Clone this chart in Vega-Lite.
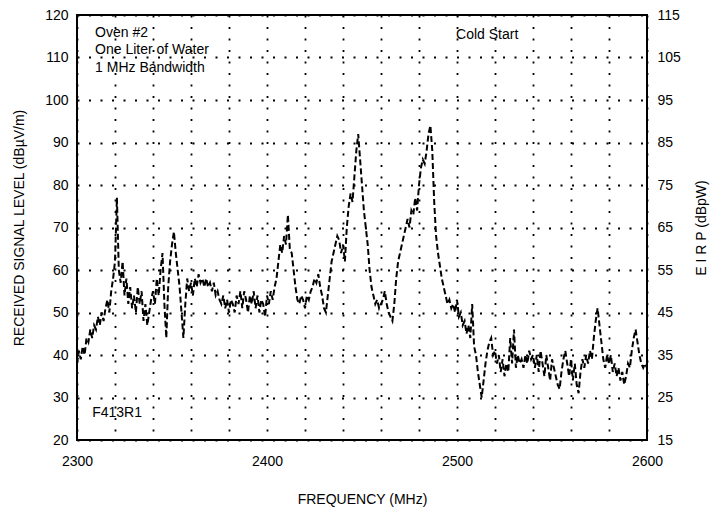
{
  "$schema": "https://vega.github.io/schema/vega-lite/v6.json",
  "autosize": "none",
  "width": 570,
  "height": 425,
  "padding": {"left": 77, "top": 15, "right": 75, "bottom": 74},
  "background": "white",
  "config": {
    "view": {"stroke": "black", "strokeWidth": 2},
    "font": "Liberation Sans Narrow, Liberation Sans, Arial",
    "axis": {
      "labelFont": "Liberation Sans Narrow, Liberation Sans, Arial",
      "titleFont": "Liberation Sans Narrow, Liberation Sans, Arial",
      "labelFontSize": 14,
      "titleFontSize": 14,
      "titleFontWeight": "normal",
      "labelColor": "black",
      "titleColor": "black",
      "labelOverlap": false,
      "domain": false,
      "ticks": false,
      "gridColor": "black",
      "gridOpacity": 1,
      "gridWidth": 1.8,
      "gridDash": [2, 9.5]
    }
  },
  "datasets": {
    "signal": [
      {"f":2300,"v":38},{"f":2301,"v":41},{"f":2302,"v":39},{"f":2303,"v":42},{"f":2304,"v":40},{"f":2305,"v":44},{"f":2306,"v":43},{"f":2307,"v":46},{"f":2308,"v":44},{"f":2309,"v":47},
      {"f":2310,"v":46},{"f":2311,"v":49},{"f":2312,"v":47},{"f":2313,"v":50},{"f":2314,"v":48},{"f":2315,"v":51},{"f":2316,"v":53},{"f":2317,"v":50},{"f":2318,"v":55},{"f":2319,"v":58},
      {"f":2320,"v":62},{"f":2321,"v":77},{"f":2322,"v":60},{"f":2323,"v":57},{"f":2324,"v":62},{"f":2325,"v":54},{"f":2326,"v":58},{"f":2327,"v":52},{"f":2328,"v":56},{"f":2329,"v":51},
      {"f":2330,"v":54},{"f":2331,"v":50},{"f":2332,"v":56},{"f":2333,"v":52},{"f":2334,"v":55},{"f":2335,"v":48},{"f":2336,"v":52},{"f":2337,"v":47},{"f":2338,"v":50},{"f":2339,"v":53},
      {"f":2340,"v":55},{"f":2341,"v":52},{"f":2342,"v":58},{"f":2343,"v":54},{"f":2344,"v":60},{"f":2345,"v":64},{"f":2346,"v":52},{"f":2347,"v":44},{"f":2348,"v":56},{"f":2349,"v":62},
      {"f":2350,"v":66},{"f":2351,"v":69},{"f":2352,"v":64},{"f":2353,"v":60},{"f":2354,"v":56},{"f":2355,"v":50},{"f":2356,"v":44},{"f":2357,"v":52},{"f":2358,"v":58},{"f":2359,"v":55},
      {"f":2360,"v":57},{"f":2361,"v":54},{"f":2362,"v":58},{"f":2363,"v":56},{"f":2364,"v":59},{"f":2365,"v":57},{"f":2366,"v":58},{"f":2367,"v":56},{"f":2368,"v":58},{"f":2369,"v":56},
      {"f":2370,"v":57},{"f":2371,"v":55},{"f":2372,"v":57},{"f":2373,"v":54},{"f":2374,"v":55},{"f":2375,"v":53},{"f":2376,"v":52},{"f":2377,"v":54},{"f":2378,"v":51},{"f":2379,"v":53},
      {"f":2380,"v":50},{"f":2381,"v":53},{"f":2382,"v":52},{"f":2383,"v":50},{"f":2384,"v":54},{"f":2385,"v":52},{"f":2386,"v":55},{"f":2387,"v":51},{"f":2388,"v":55},{"f":2389,"v":53},
      {"f":2390,"v":50},{"f":2391,"v":54},{"f":2392,"v":52},{"f":2393,"v":55},{"f":2394,"v":51},{"f":2395,"v":54},{"f":2396,"v":50},{"f":2397,"v":53},{"f":2398,"v":52},{"f":2399,"v":49},
      {"f":2400,"v":54},{"f":2401,"v":52},{"f":2402,"v":55},{"f":2403,"v":53},{"f":2404,"v":56},{"f":2405,"v":58},{"f":2406,"v":62},{"f":2407,"v":66},{"f":2408,"v":64},{"f":2409,"v":68},
      {"f":2410,"v":66},{"f":2411,"v":73},{"f":2412,"v":65},{"f":2413,"v":64},{"f":2414,"v":60},{"f":2415,"v":56},{"f":2416,"v":53},{"f":2417,"v":52},{"f":2418,"v":54},{"f":2419,"v":53},
      {"f":2420,"v":51},{"f":2421,"v":54},{"f":2422,"v":53},{"f":2423,"v":55},{"f":2424,"v":56},{"f":2425,"v":58},{"f":2426,"v":57},{"f":2427,"v":59},{"f":2428,"v":56},{"f":2429,"v":54},
      {"f":2430,"v":51},{"f":2431,"v":50},{"f":2432,"v":54},{"f":2433,"v":58},{"f":2434,"v":62},{"f":2435,"v":64},{"f":2436,"v":66},{"f":2437,"v":68},{"f":2438,"v":67},{"f":2439,"v":64},
      {"f":2440,"v":66},{"f":2441,"v":62},{"f":2442,"v":70},{"f":2443,"v":75},{"f":2444,"v":78},{"f":2445,"v":76},{"f":2446,"v":82},{"f":2447,"v":88},{"f":2448,"v":92},{"f":2449,"v":86},
      {"f":2450,"v":80},{"f":2451,"v":74},{"f":2452,"v":70},{"f":2453,"v":66},{"f":2454,"v":60},{"f":2455,"v":56},{"f":2456,"v":54},{"f":2457,"v":52},{"f":2458,"v":53},{"f":2459,"v":51},
      {"f":2460,"v":52},{"f":2461,"v":53},{"f":2462,"v":55},{"f":2463,"v":52},{"f":2464,"v":50},{"f":2465,"v":49},{"f":2466,"v":48},{"f":2467,"v":52},{"f":2468,"v":58},{"f":2469,"v":62},
      {"f":2470,"v":64},{"f":2471,"v":66},{"f":2472,"v":68},{"f":2473,"v":70},{"f":2474,"v":72},{"f":2475,"v":70},{"f":2476,"v":74},{"f":2477,"v":73},{"f":2478,"v":77},{"f":2479,"v":74},
      {"f":2480,"v":80},{"f":2481,"v":84},{"f":2482,"v":86},{"f":2483,"v":85},{"f":2484,"v":88},{"f":2485,"v":92},{"f":2486,"v":94},{"f":2487,"v":88},{"f":2488,"v":76},{"f":2489,"v":68},
      {"f":2490,"v":64},{"f":2491,"v":61},{"f":2492,"v":58},{"f":2493,"v":56},{"f":2494,"v":54},{"f":2495,"v":52},{"f":2496,"v":53},{"f":2497,"v":51},{"f":2498,"v":52},{"f":2499,"v":50},
      {"f":2500,"v":53},{"f":2501,"v":49},{"f":2502,"v":50},{"f":2503,"v":47},{"f":2504,"v":48},{"f":2505,"v":45},{"f":2506,"v":47},{"f":2507,"v":44},{"f":2508,"v":52},{"f":2509,"v":42},
      {"f":2510,"v":40},{"f":2511,"v":36},{"f":2512,"v":33},{"f":2513,"v":30},{"f":2514,"v":34},{"f":2515,"v":38},{"f":2516,"v":41},{"f":2517,"v":43},{"f":2518,"v":44},{"f":2519,"v":40},
      {"f":2520,"v":41},{"f":2521,"v":38},{"f":2522,"v":40},{"f":2523,"v":36},{"f":2524,"v":39},{"f":2525,"v":35},{"f":2526,"v":38},{"f":2527,"v":36},{"f":2528,"v":44},{"f":2529,"v":38},
      {"f":2530,"v":46},{"f":2531,"v":37},{"f":2532,"v":40},{"f":2533,"v":38},{"f":2534,"v":39},{"f":2535,"v":37},{"f":2536,"v":40},{"f":2537,"v":38},{"f":2538,"v":41},{"f":2539,"v":39},
      {"f":2540,"v":40},{"f":2541,"v":37},{"f":2542,"v":40},{"f":2543,"v":36},{"f":2544,"v":41},{"f":2545,"v":38},{"f":2546,"v":35},{"f":2547,"v":40},{"f":2548,"v":37},{"f":2549,"v":34},
      {"f":2550,"v":39},{"f":2551,"v":37},{"f":2552,"v":35},{"f":2553,"v":33},{"f":2554,"v":32},{"f":2555,"v":36},{"f":2556,"v":39},{"f":2557,"v":41},{"f":2558,"v":38},{"f":2559,"v":35},
      {"f":2560,"v":39},{"f":2561,"v":34},{"f":2562,"v":38},{"f":2563,"v":33},{"f":2564,"v":31},{"f":2565,"v":36},{"f":2566,"v":39},{"f":2567,"v":37},{"f":2568,"v":40},{"f":2569,"v":38},
      {"f":2570,"v":41},{"f":2571,"v":39},{"f":2572,"v":44},{"f":2573,"v":48},{"f":2574,"v":51},{"f":2575,"v":47},{"f":2576,"v":43},{"f":2577,"v":39},{"f":2578,"v":37},{"f":2579,"v":40},
      {"f":2580,"v":38},{"f":2581,"v":40},{"f":2582,"v":36},{"f":2583,"v":38},{"f":2584,"v":35},{"f":2585,"v":37},{"f":2586,"v":34},{"f":2587,"v":36},{"f":2588,"v":33},{"f":2589,"v":35},
      {"f":2590,"v":38},{"f":2591,"v":37},{"f":2592,"v":41},{"f":2593,"v":44},{"f":2594,"v":46},{"f":2595,"v":43},{"f":2596,"v":40},{"f":2597,"v":38},{"f":2598,"v":37},{"f":2599,"v":38},
      {"f":2600,"v":37}
    ],
    "notes": [
      {"label": "Oven #2", "f": 2309.5, "v": 115.8},
      {"label": "One Liter of Water", "f": 2309.5, "v": 111.7},
      {"label": "1 MHz Bandwidth", "f": 2309.5, "v": 107.6},
      {"label": "Cold Start", "f": 2499.5, "v": 115.3},
      {"label": "F413R1", "f": 2308, "v": 26.4}
    ]
  },
  "encoding": {
    "x": {
      "field": "f", "type": "quantitative",
      "scale": {"domain": [2300, 2600], "nice": false, "zero": false},
      "axis": {
        "values": [2300,2320,2340,2360,2380,2400,2420,2440,2460,2480,2500,2520,2540,2560,2580,2600],
        "labelExpr": "datum.value % 100 == 0 ? format(datum.value, 'd') : ''",
        "grid": true,
        "tickCount": 16,
        "labelPadding": 14,
        "labelFlush": false,
        "labelOverlap": false,
        "title": "FREQUENCY (MHz)",
        "titlePadding": 24
      }
    }
  },
  "layer": [
    {
      "data": {"name": "signal"},
      "mark": {"type": "line", "color": "black", "strokeWidth": 2, "strokeDash": [6, 3], "interpolate": "linear"},
      "encoding": {
        "y": {
          "field": "v", "type": "quantitative",
          "scale": {"domain": [20, 120], "nice": false, "zero": false},
          "axis": {
            "orient": "left",
            "values": [20,30,40,50,60,70,80,90,100,110,120],
            "grid": true,
            "labelPadding": 9,
            "labelFlush": false,
            "labelOverlap": false,
            "title": "RECEIVED SIGNAL LEVEL (dBµV/m)",
            "titlePadding": 18
          }
        }
      }
    },
    {
      "data": {"name": "signal"},
      "mark": {"type": "line", "strokeOpacity": 0},
      "encoding": {
        "y": {
          "field": "v", "type": "quantitative",
          "axis": {
            "orient": "right",
            "values": [20,30,40,50,60,70,80,90,100,110,120],
            "labelExpr": "format(datum.value - 5, 'd')",
            "grid": false,
            "labelPadding": 10,
            "labelFlush": false,
            "labelOverlap": false,
            "title": "E I R P (dBpW)",
            "titleAngle": 270,
            "titlePadding": 28
          }
        }
      }
    },
    {
      "data": {"name": "notes"},
      "mark": {"type": "text", "align": "left", "baseline": "middle", "fontSize": 14, "color": "black", "font": "Liberation Sans Narrow, Liberation Sans, Arial"},
      "encoding": {
        "y": {"field": "v", "type": "quantitative", "axis": null},
        "text": {"field": "label"}
      }
    }
  ],
  "resolve": {"axis": {"y": "independent"}}
}
